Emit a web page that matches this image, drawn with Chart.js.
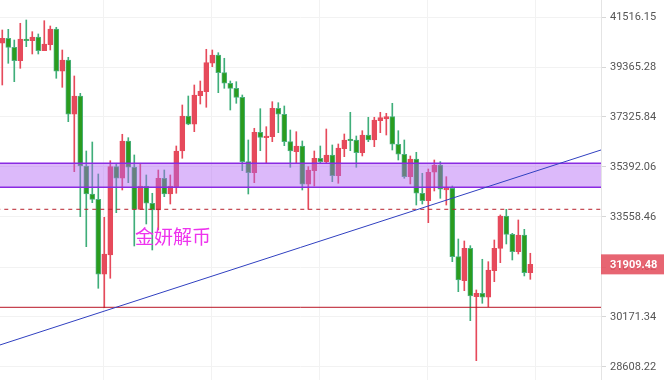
<!DOCTYPE html>
<html>
<head>
<meta charset="utf-8">
<script src="https://cdn.jsdelivr.net/npm/chart.js@4.4.1/dist/chart.umd.min.js"></script>
<style>
  html, body { margin: 0; padding: 0; background: #fff; }
  canvas { display: block; }
</style>
</head>
<body>
<canvas id="chart" width="664" height="380"></canvas>
<script>
// candle data
const opens  = [40371,40586,40199,39630,40556,40482,40643,40054,40311,40990,39186,39660,37434,38169,35431,34390,34196,31574,32229,35404,
                34970,36385,35381,33834,34685,34052,33810,34970,34390,34659,36000,37366,37038,38182,38344,39521,39872,39128,38689,38483,
                38116,35593,35179,36724,36513,36552,37673,37434,36358,35973,36192,34747,35253,35722,35593,35848,35067,36088,36463,36424,
                35935,36618,36424,37179,37245,37338,36258,35874,35029,35695,34416,34146,35194,35468,34537,34600,32171,31360,32459,30832,
                30942,30812,31695,32459,33595,32946,32343,32921,31628];
const highs  = [40946,40976,40512,41239,41384,40872,40773,41353,41121,41064,40084,39774,38991,38279,36000,36346,35130,33548,35630,35532,
                36646,36513,35848,35532,35093,34416,35279,35279,35093,36192,37806,38169,38619,38783,40114,40084,39969,39732,38783,38755,
                38210,36424,36880,37657,36943,37939,37898,37766,36813,36747,36385,35404,36000,36192,36852,36231,36269,36657,37513,36579,
                36786,37314,37314,37513,37473,37874,36786,36424,35810,35950,35156,35317,35657,35593,35029,34685,32782,32713,32550,31051,
                32082,32000,32747,33631,33834,32981,33452,33122,32288];
const lows   = [38619,39521,38755,39311,40225,39914,39914,40054,40084,38895,38524,37140,35216,33570,32515,34073,31107,30470,31440,33713,
                34537,34806,32539,33820,33310,32401,33098,34291,34026,34416,35722,37020,36747,37846,37714,39378,38304,38483,37605,37874,
                35253,34390,34806,36011,35532,36358,36708,36204,35381,35532,34537,33834,34685,35532,35555,34843,34784,35783,36011,35381,
                35810,36358,36165,36708,36618,36038,35657,34970,34758,33990,34026,33356,34500,34233,33990,32000,30995,31028,30053,28801,
                30615,30505,31327,31966,32609,32058,32264,31518,31406];
const closes = [40586,40199,39630,40556,40482,40643,40054,40341,40990,39186,39660,37434,38169,35431,34390,34196,31574,32264,35404,34970,
                36385,35381,33834,34685,34052,33810,34970,34390,34685,36000,37366,37038,38210,38373,39546,39872,39128,38689,38483,38116,
                35593,35179,36724,36528,36579,37673,37434,36358,36000,36192,34747,35279,35722,35593,35848,35067,36115,36424,36397,35935,
                36618,36424,37207,37298,37338,36258,35874,35029,35695,34416,34146,35194,35468,34563,34600,32171,31383,32459,30854,30942,
                30812,31719,32459,33595,32946,32343,32921,31628,31909.48];

// axis ticks
const yTicks = [28608.22, 30171.34, 31819.62, 33558.46, 35392.06, 37325.84, 39365.28, 41516.15];
const xGrid  = [16.8, 34.8, 52.8, 70.8, 88.8];

// drawn levels
const zoneTop = 35532, zoneBottom = 34636;
const dashLevel = 33835;
const supportLevel = 30484;
const trendX = [-5, 105];
const trendY = [29008, 36431];
const watermark = '金妍解币';

const RED = '#e64a5b', GREEN = '#2b9c1e', GREEN_EDGE = '#4bb17e', GREEN_WICK = '#3fae7a';
const isUp = i => closes[i] >= opens[i];
const idx = opens.map((_, i) => i);

function hline(v, extra){
  return Object.assign({
    type: 'line',
    data: [{x: trendX[0], y: v}, {x: trendX[1], y: v}],
    pointRadius: 0, borderWidth: 1, fill: false
  }, extra);
}

const overlay = {
  id: 'overlay',
  afterDatasetsDraw(chart){
    const ctx = chart.ctx;
    ctx.save();
    ctx.font = '19px "Noto Sans CJK SC"';
    ctx.fillStyle = '#ee33ee';
    ctx.textBaseline = 'middle';
    ctx.fillText(watermark, 135, 237);
    ctx.restore();
  },
  afterDraw(chart){
    const ctx = chart.ctx, a = chart.chartArea;
    const last = closes[closes.length - 1];
    const y = chart.scales.y.getPixelForValue(last);
    ctx.save();
    ctx.fillStyle = 'rgba(228,80,94,0.88)';
    ctx.fillRect(a.right, y - 10, chart.width - a.right, 20);
    ctx.fillStyle = '#fff';
    ctx.font = 'bold 11px Roboto';
    ctx.textBaseline = 'middle';
    ctx.fillText(last.toFixed(2), a.right + 9, y + 1);
    ctx.restore();
  }
};

new Chart(document.getElementById('chart'), {
  type: 'bar',
  data: {
    datasets: [
      hline(zoneTop, {borderColor: '#8a2be2', borderWidth: 1.5, order: 1}),
      hline(zoneBottom, {borderColor: '#8a2be2', borderWidth: 1.5, fill: '-1',
        backgroundColor: 'rgba(178,100,244,0.45)', order: 1}),
      hline(dashLevel, {borderColor: '#b8202c', borderDash: [4, 4], order: 1}),
      hline(supportLevel, {borderColor: '#b81424', order: 1}),
      {
        type: 'line',
        data: [{x: trendX[0], y: trendY[0]}, {x: trendX[1], y: trendY[1]}],
        borderColor: '#3040c0', borderWidth: 1, pointRadius: 0, fill: false, order: 0
      },
      {
        data: idx.map(i => ({x: i, y: [lows[i], highs[i]]})),
        backgroundColor: c => isUp(c.dataIndex) ? RED : GREEN_WICK,
        barThickness: 1, grouped: false, order: 3
      },
      {
        data: idx.map(i => ({x: i, y: [opens[i], closes[i]]})),
        backgroundColor: c => isUp(c.dataIndex) ? RED : GREEN,
        borderColor: c => isUp(c.dataIndex) ? RED : GREEN_EDGE,
        borderWidth: 1, borderSkipped: false, minBarLength: 1,
        barThickness: 5, grouped: false, order: 2
      }
    ]
  },
  options: {
    responsive: false,
    animation: false,
    devicePixelRatio: 1,
    layout: { padding: 0 },
    plugins: { legend: { display: false }, tooltip: { enabled: false } },
    scales: {
      x: {
        type: 'linear', min: -0.38, max: 99.78, offset: false,
        afterBuildTicks: s => { s.ticks = xGrid.map(v => ({value: v})); },
        ticks: { display: false },
        grid: { color: '#f2f2f2', drawTicks: false, offset: false },
        border: { display: false }
      },
      y: {
        type: 'logarithmic', position: 'right', min: 28215, max: 42274,
        afterBuildTicks: s => { s.ticks = yTicks.map(v => ({value: v})); },
        afterFit: s => { s.width = 63; s.paddingTop = 0; s.paddingBottom = 0; },
        ticks: {
          callback: v => Number(v).toFixed(2),
          font: { family: 'Roboto', size: 11 }, color: '#555', padding: 4
        },
        grid: { color: '#f2f2f2', tickLength: 5, tickColor: '#d6d6d6' },
        border: { color: '#e4e4e4' }
      }
    }
  },
  plugins: [overlay]
});
</script>
</body>
</html>
